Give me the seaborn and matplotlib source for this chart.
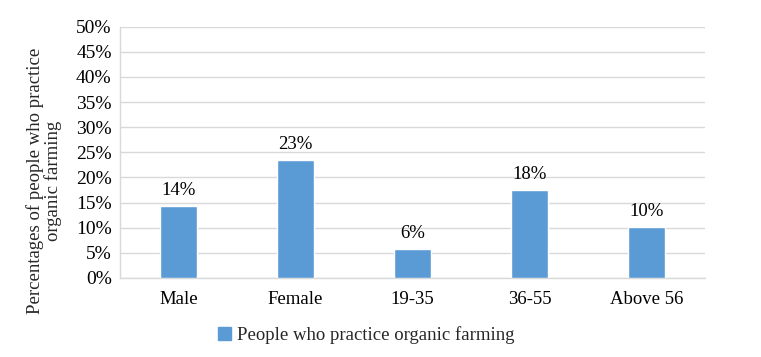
import seaborn as sns
from matplotlib import pyplot as plt
import matplotlib.patches as mpatches
import pandas as pd

categories = ["Male", "Female", "19-35", "36-55", "Above 56"]
values = [14.3, 23.4, 5.8, 17.5, 10.2]
labels = ["14%", "23%", "6%", "18%", "10%"]
series_name = "People who practice organic farming"

sns.set_theme(style="white")
plt.rcParams['font.family'] = ['Liberation Serif', 'DejaVu Serif']

color = "#5b9bd5"
fs = 13.5
df = pd.DataFrame({"cat": categories, "val": values})

fig = plt.figure(figsize=(7.61, 3.57), dpi=100)
ax = fig.add_axes([120 / 761, 1 - 278 / 357, 585 / 761, (278 - 26.7) / 357])

sns.barplot(data=df, x="cat", y="val", color=color, width=0.316,
            saturation=1, ax=ax, zorder=3)

for i, (v, t) in enumerate(zip(values, labels)):
    ax.text(i, v + 3.1, t, ha="center", va="center", fontsize=fs, color="#000000")

ax.set_ylim(0, 50)
ax.set_yticks(range(0, 51, 5))
ax.set_yticklabels([f"{t}%" for t in range(0, 51, 5)], fontsize=14)
ax.tick_params(axis="x", labelsize=fs, pad=9, length=0, colors="#000000")
ax.tick_params(axis="y", pad=6, length=0, colors="#000000")
ax.grid(axis="y", color="#d9d9d9", linewidth=1, zorder=0)
ax.set_xlabel("")
ax.set_ylabel("")
fig.text(44 / 761, 1 - 181 / 357, "Percentages of people who practice\norganic farming",
         rotation=90, ha="center", va="center", fontsize=fs, linespacing=1.0,
         multialignment="center")
for side in ["top", "right"]:
    ax.spines[side].set_visible(False)
for side in ["left", "bottom"]:
    ax.spines[side].set_color("#d9d9d9")
    ax.spines[side].set_linewidth(1)

handle = mpatches.Patch(color=color, label=series_name)
fig.legend(handles=[handle], loc="center", bbox_to_anchor=(366 / 761, 1 - 335 / 357),
           frameon=False, fontsize=fs, handlelength=0.7, handleheight=0.7,
           handletextpad=0.3)

fig.savefig("out.png", dpi=100)
